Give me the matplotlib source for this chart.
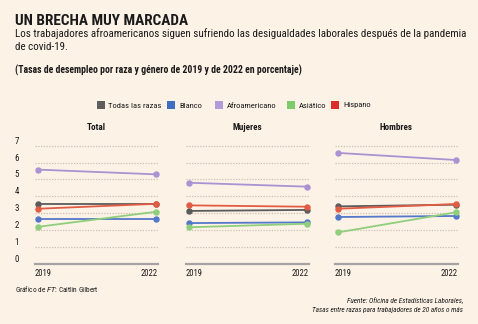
import matplotlib
matplotlib.use("Agg")
import matplotlib.pyplot as plt
from matplotlib import font_manager
import matplotlib.transforms as mtransforms

# ---------------- data ----------------
years = ["2019", "2022"]
series_names = ["Todas las razas", "Blanco", "Afroamericano", "Asiático", "Hispano"]
panels = ["Total", "Mujeres", "Hombres"]

total_todas = [3.55, 3.55]
total_blanco = [2.63, 2.63]
total_afro = [5.58, 5.30]
total_asiatico = [2.19, 3.08]
total_hispano = [3.26, 3.55]

mujeres_todas = [3.13, 3.19]
mujeres_blanco = [2.41, 2.45]
mujeres_afro = [4.80, 4.57]
mujeres_asiatico = [2.16, 2.37]
mujeres_hispano = [3.46, 3.38]

hombres_todas = [3.40, 3.50]
hombres_blanco = [2.77, 2.83]
hombres_afro = [6.57, 6.15]
hombres_asiatico = [1.86, 3.05]
hombres_hispano = [3.26, 3.54]

y_ticks = [0, 1, 2, 3, 4, 5, 6, 7]

panel_data = {
    "Total": [total_todas, total_blanco, total_afro, total_asiatico, total_hispano],
    "Mujeres": [mujeres_todas, mujeres_blanco, mujeres_afro, mujeres_asiatico, mujeres_hispano],
    "Hombres": [hombres_todas, hombres_blanco, hombres_afro, hombres_asiatico, hombres_hispano],
}

# ---------------- style ----------------
available = {f.name for f in font_manager.fontManager.ttflist}
fam = "DejaVu Sans"
for cand in ["Liberation Sans Narrow", "Roboto Condensed", "Open Sans Condensed", "Roboto", "Lato"]:
    if cand in available:
        fam = cand
        break
plt.rcParams["font.family"] = [fam, "DejaVu Sans"]

bg = "#fdf2e6"
line_colors = ["#5b5b5b", "#5478c9", "#ab93d3", "#8fcf7c", "#e25c44"]
legend_colors = ["#5e5e5e", "#3f6fc1", "#b39ad8", "#7dcb6c", "#dd2b2b"]
text_col = "#1a1a1a"

W, H = 478, 324
fig = plt.figure(figsize=(W / 100, H / 100), dpi=100, facecolor=bg)

def fx(px):
    return px / W

def fy(py):
    return 1 - py / H

# titles
fig.text(fx(15), fy(21), "UN BRECHA MUY MARCADA", fontsize=11.0, fontweight="bold",
         color=text_col, va="center", ha="left")
fig.text(fx(15), fy(33.5), "Los trabajadores afroamericanos siguen sufriendo las desigualdades laborales después de la pandemia",
         fontsize=7.95, color=text_col, va="center", ha="left")
fig.text(fx(15), fy(47), "de covid-19.", fontsize=7.95, color=text_col, va="center", ha="left")
fig.text(fx(15), fy(70), "(Tasas de desempleo por raza y género de 2019 y de 2022 en porcentaje)",
         fontsize=7.0, fontweight="bold", color=text_col, va="center", ha="left")

# legend (manual, uses series names and colors)
leg_x = [96.5, 167, 215, 287, 331]
for name, c, lx in zip(series_names, legend_colors, leg_x):
    fig.patches.append(plt.Rectangle((fx(lx), fy(109)), fx(8), 8 / H, transform=fig.transFigure,
                                     facecolor=c, edgecolor="none"))
    fig.text(fx(lx + 12), fy(105.5), name, fontsize=6.1, color=text_col, va="center", ha="left")

# axes
unit = 16.86
ytop = 7.3
base_py = 263.7
ax_lefts = [35, 186, 335]
ax_w = 123
for i, (pname, left) in enumerate(zip(panels, ax_lefts)):
    ax = fig.add_axes([fx(left), fy(base_py), fx(ax_w), ytop * unit / H])
    ax.set_facecolor(bg)
    ax.set_xlim(-0.028, 1.018)
    ax.set_ylim(0, ytop)
    for v in y_ticks[1:]:
        ax.axhline(v, color="#cbbfb3", lw=0.9, ls=(0, (1, 1.2)), zorder=1)
    ax.axhline(0, color="#a3a3a3", lw=1.6, zorder=2, clip_on=False)
    for vals, c in zip(panel_data[pname], line_colors):
        ax.plot([0, 1], vals, color=c, lw=1.3, marker="o", ms=3.6, zorder=3, clip_on=False)
    for s in ax.spines.values():
        s.set_visible(False)
    ax.set_xticks([0, 1])
    ax.set_xticklabels(years)
    ax.tick_params(axis="x", length=0, labelsize=6.2, colors=text_col, pad=4)
    xl = ax.get_xticklabels()
    xl[0].set_ha("left")
    xl[1].set_ha("right")
    xl[0].set_transform(xl[0].get_transform() + mtransforms.ScaledTranslation(-3.3 / 100, 0, fig.dpi_scale_trans))
    xl[1].set_transform(xl[1].get_transform() + mtransforms.ScaledTranslation(2.0 / 100, 0, fig.dpi_scale_trans))
    if i == 0:
        ax.set_yticks(y_ticks)
        ax.set_yticklabels([str(v) for v in y_ticks])
        ax.tick_params(axis="y", length=0, labelsize=6.4, colors=text_col, pad=13)
        for lab in ax.get_yticklabels():
            lab.set_ha("center")
            lab.set_transform(lab.get_transform() + mtransforms.ScaledTranslation(0, 5.5 / 100, fig.dpi_scale_trans))
    else:
        ax.set_yticks([])
    ax.set_title(pname, fontsize=6.6, fontweight="bold", color=text_col, pad=8)

# footer
fig.text(fx(15), fy(288.5), r"Gráfico de $\it{FT}$: Caitlin Gilbert", fontsize=5.2, color=text_col,
         va="center", ha="left")
fig.text(fx(463), fy(301), "Fuente: Oficina de Estadísticas Laborales,", fontsize=5.25, style="italic",
         color=text_col, va="center", ha="right")
fig.text(fx(463), fy(310), "Tasas entre razas para trabajadores de 20 años o más", fontsize=5.25, style="italic",
         color=text_col, va="center", ha="right")

fig.savefig("out.png", dpi=100, facecolor=bg)
